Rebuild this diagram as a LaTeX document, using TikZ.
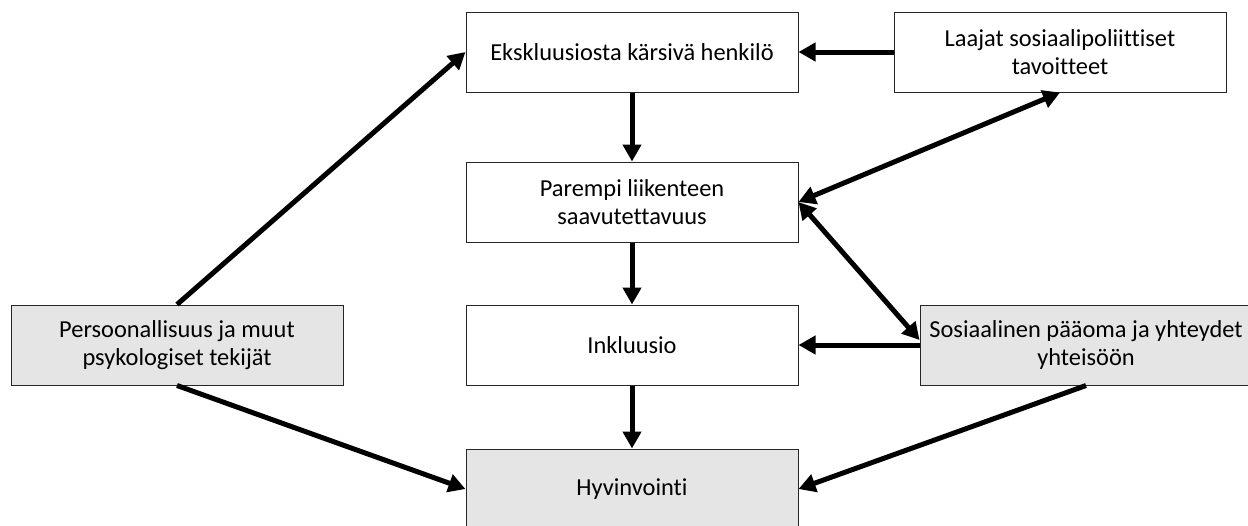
\documentclass[tikz,border=0pt]{standalone}
\usepackage{fontspec}
\setmainfont{Carlito}[Ligatures=NoCommon]
\usetikzlibrary{arrows.meta}
\begin{document}
\begin{tikzpicture}[x=0.5pt, y=-0.5pt,
    box/.style={draw=black!85, line width=0.5pt, minimum width=166pt, minimum height=40pt, inner sep=0pt, align=center, font=\fontsize{12.2}{14}\selectfont},
    grey/.style={box, fill=black!10},
    arr/.style={line width=2.5pt, -{Triangle[length=8.5pt,width=9pt]}},
    both/.style={line width=2.5pt, {Triangle[length=8.5pt,width=9pt]}-{Triangle[length=8.5pt,width=9pt]}}]
            \clip (0,0) rectangle (1248,525);
            \node[box] (ekskl) at (632,52) {Ekskluusiosta kärsivä henkilö};
            \node[box] (laajat) at (1060,52) {Laajat sosiaalipoliittiset\\tavoitteet};
            \node[box] (parempi) at (632,202) {Parempi liikenteen\\saavutettavuus};
            \node[box] (inkl) at (632,345) {Inkluusio};
            \node[grey] (persoona) at (177,345) {Persoonallisuus ja muut\\psykologiset tekijät};
            \node[grey] (sosiaali) at (1086,345) {Sosiaalinen pääoma ja yhteydet\\yhteisöön};
            \node[grey] (hyvin) at (632,489) {Hyvinvointi};
            \draw[arr] (persoona.north) -- (ekskl.west);
            \draw[arr] (laajat.west) -- (ekskl.east);
            \draw[arr] (ekskl.south) -- (parempi.north);
            \draw[both] (parempi.east) -- (laajat.south);
            \draw[both] (parempi.east) -- ([yshift=2.5pt]sosiaali.west);
            \draw[arr] (sosiaali.west) -- (inkl.east);
            \draw[arr] (parempi.south) -- (inkl.north);
            \draw[arr] (inkl.south) -- (hyvin.north);
            \draw[arr] (persoona.south) -- (hyvin.west);
            \draw[arr] (sosiaali.south) -- (hyvin.east);
        \end{tikzpicture}
\end{document}
